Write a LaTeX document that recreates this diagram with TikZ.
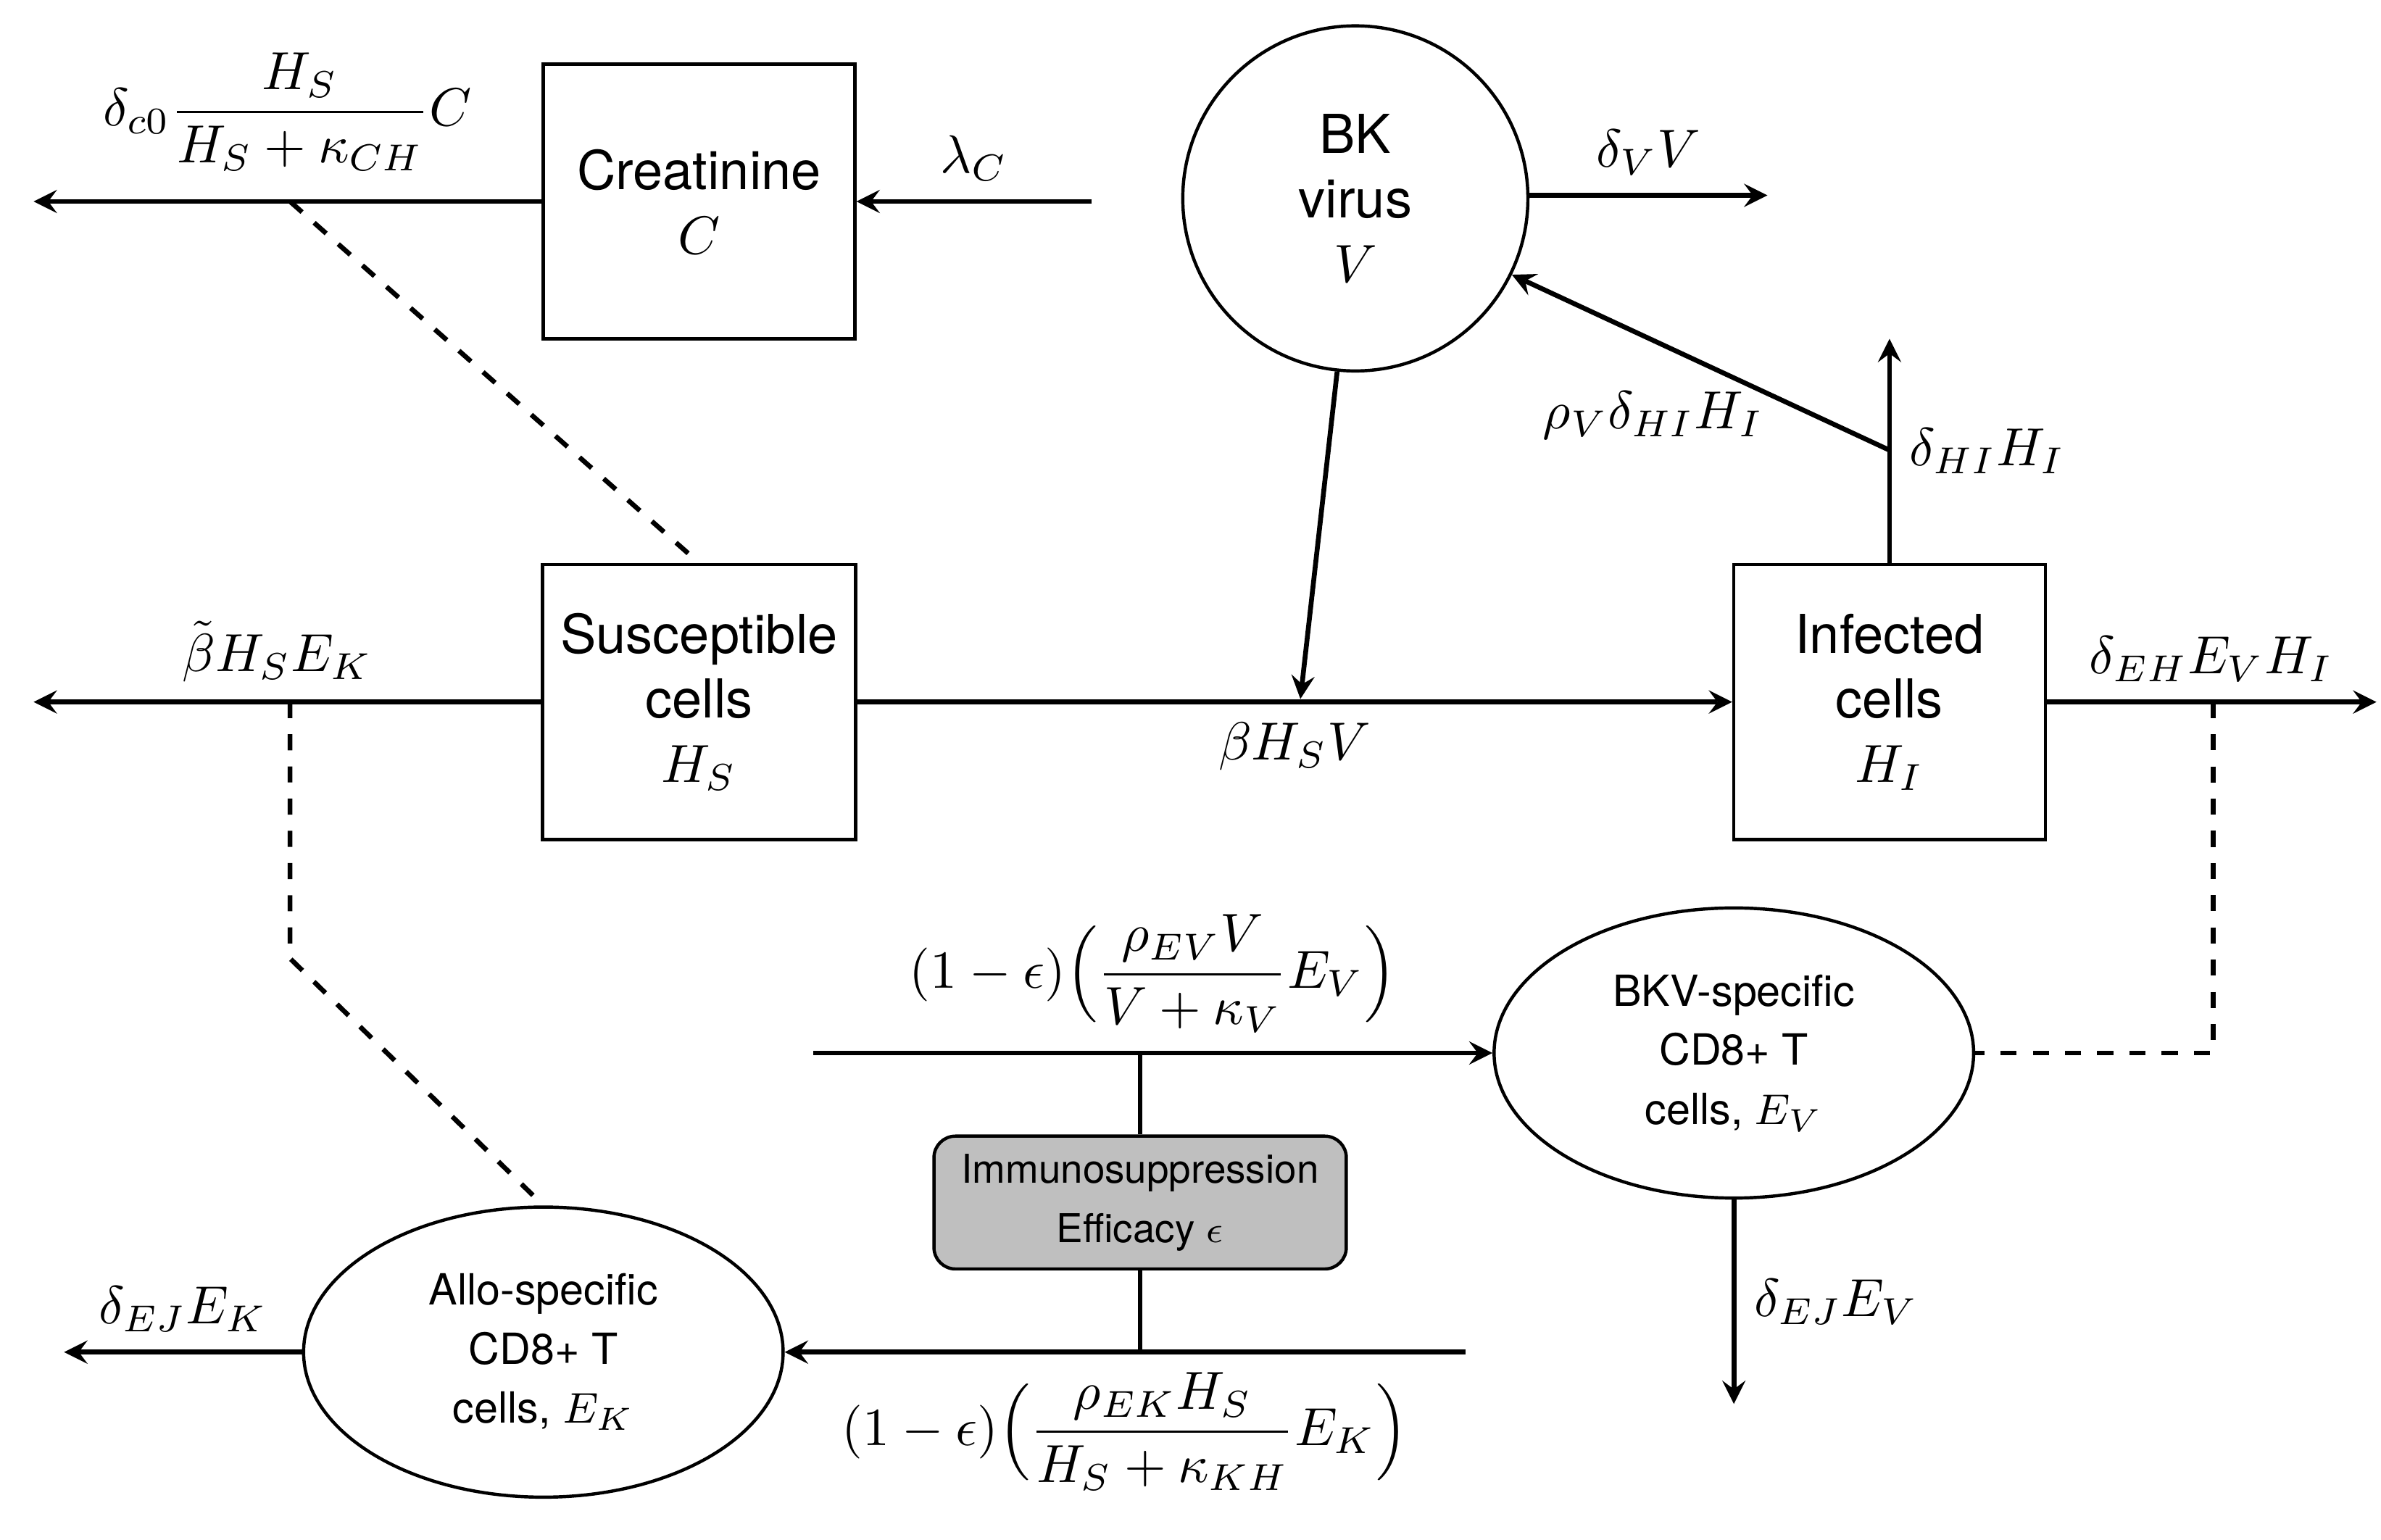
\documentclass[tikz,border=0pt]{standalone}
\usepackage{fontspec}
\setsansfont{TeX Gyre Heros}
\usepackage{amsmath}
\usepackage{tikz}
\usetikzlibrary{positioning,shapes.geometric}

\begin{document}
\begin{tikzpicture}[x=0.01cm, y=-0.01cm,
    >=stealth,
    every node/.style={font=\sffamily},
    % Box styles
    comp/.style={draw, line width=0.6pt, minimum width=2.04cm, minimum height=1.8cm, align=center},
    virusnode/.style={draw, circle, line width=0.6pt, minimum size=2.26cm, align=center},
    tcell/.style={draw, ellipse, line width=0.6pt, minimum width=3.14cm, minimum height=1.9cm,
                  align=center, font=\sffamily\footnotesize},
    drug/.style={draw, rounded corners=4pt, fill=black!25, line width=0.6pt, minimum width=2.7cm,
                 minimum height=0.87cm, align=center, font=\sffamily\fontsize{7.4}{9}\selectfont},
    arrow/.style={->, line width=0.9pt},
    plain/.style={line width=0.9pt},
    dashline/.style={dashed, line width=0.9pt},
  ]
  \useasboundingbox (0,0) rectangle (1560,1009);

  % ===== Compartments =====
  \node[comp] (creat) at (458,132) {Creatinine\\$C$};
  \node[virusnode] (virus) at (888,130) {BK\\virus\\$V$};
  \node[comp] (sus) at (458,460) {Susceptible\\cells\\$H_S$};
  \node[comp] (inf) at (1238,460) {Infected\\cells\\$H_I$};
  \node[tcell] (tv) at (1136,690) {BKV-specific\\[1.5pt]CD8+ T\\[1.5pt]cells, $E_V$};
  \node[tcell] (tk) at (356,886) {Allo-specific\\[1.5pt]CD8+ T\\[1.5pt]cells, $E_K$};
  \node[drug] (immuno) at (747,788) {Immunosuppression\\[2pt]Efficacy $\epsilon$};

  % Free ends
  \coordinate (creatout) at (22,132);
  \coordinate (creatin) at (715,132);
  \coordinate (virusout) at (1158,128);
  \coordinate (infect) at (852,458);
  \coordinate (susout) at (22,460);
  \coordinate (infout) at (1557,460);
  \coordinate (infup) at (1238,222);
  \coordinate (burst) at (1238,295);
  \coordinate (tvin) at (533,690);
  \coordinate (tvout) at (1136,920);
  \coordinate (tkin) at (960,886);
  \coordinate (tkout) at (42,886);
  \coordinate (dc) at (190,132);
  \coordinate (dk) at (190,460);
  \coordinate (dkb) at (190,628);
  \coordinate (dv) at (1450,460);
  \coordinate (dvb) at (1450,690);
  \coordinate (itop) at (747,690);
  \coordinate (ibot) at (747,886);

  % ===== Creatinine =====
  \draw[arrow] (creat) -- (creatout)
    node[pos=0.5, above, yshift=2pt] {$\delta_{c0}\dfrac{H_S}{H_S+\kappa_{CH}}C$};
  \draw[arrow] (creatin) -- (creat) node[pos=0.5, above] {$\lambda_C$};
  \draw[dashline] (dc) -- (sus.north);

  % ===== Virus =====
  \draw[arrow] (virus.east |- virusout) -- (virusout) node[pos=0.5, above] {$\delta_V V$};
  \draw[arrow] (virus.-96) -- (infect);

  % ===== Cells =====
  \draw[arrow] (sus) -- (inf) node[pos=0.5, below] {$\beta H_S V$};
  \draw[arrow] (sus) -- (susout) node[pos=0.52, above] {$\tilde\beta H_S E_K$};
  \draw[dashline] (dk) -- (dkb) -- (tk.north);
  \draw[arrow] (inf) -- (infup) node[pos=0.5, right] {$\delta_{HI}H_I$};
  \draw[arrow] (burst) -- (virus.-26) node[pos=0.45, below left, xshift=12pt] {$\rho_V\delta_{HI}H_I$};
  \draw[arrow] (inf) -- (infout) node[pos=0.5, above] {$\delta_{EH}E_V H_I$};
  \draw[dashline] (dv) -- (dvb) -- (tv.east);

  % ===== T cells =====
  \draw[arrow] (tvin) -- (tv)
    node[pos=0.5, above] {$(1-\epsilon)\Bigl(\dfrac{\rho_{EV}V}{V+\kappa_V}E_V\Bigr)$};
  \draw[arrow] (tv) -- (tvout) node[pos=0.5, right] {$\delta_{EJ}E_V$};
  \draw[arrow] (tkin) -- (tk)
    node[pos=0.5, below] {$(1-\epsilon)\Bigl(\dfrac{\rho_{EK}H_S}{H_S+\kappa_{KH}}E_K\Bigr)$};
  \draw[arrow] (tk) -- (tkout) node[pos=0.5, above] {$\delta_{EJ}E_K$};
  \draw[plain] (itop) -- (immuno);
  \draw[plain] (immuno) -- (ibot);

\end{tikzpicture}
\end{document}
